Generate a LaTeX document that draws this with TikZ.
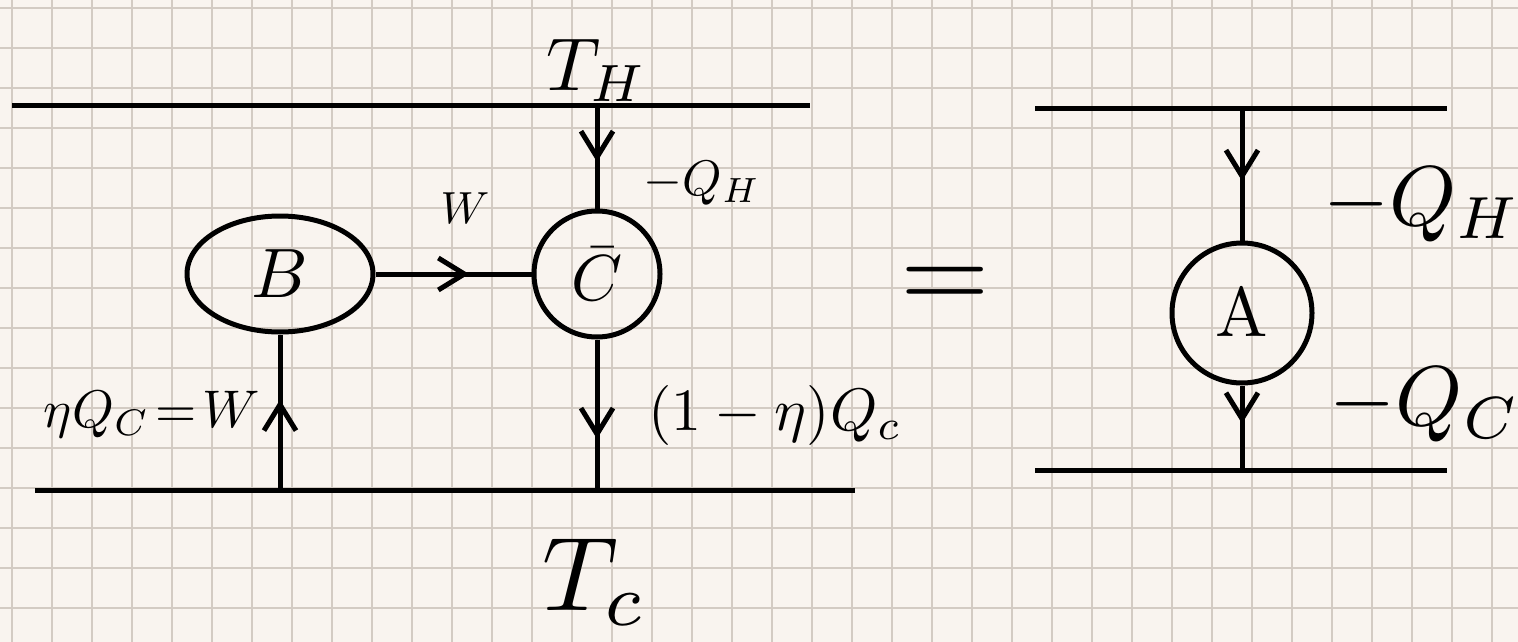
\documentclass[tikz,border=0pt]{standalone}
\usepackage{graphicx}
\usetikzlibrary{shapes.geometric,arrows.meta,decorations.markings}
\definecolor{paper}{HTML}{F9F4EF}
\definecolor{gridc}{HTML}{D3CBC3}
\tikzset{
  ink/.style={line width=5pt, black},
  midarrow/.style={ink, postaction={decorate}, decoration={markings,
     mark=at position #1 with {\arrow{Straight Barb[length=26pt,width=32pt,line width=5pt]}}}},
  engine/.style={circle, draw, ink, inner sep=0pt},
  lbl/.style={inner sep=0pt},
}
\begin{document}
\begin{tikzpicture}[x=1pt,y=-1pt]
\useasboundingbox (0,0) rectangle (1518,642);
\fill[paper] (0,0) rectangle (1518,642);
\foreach \i in {0,...,37} \draw[gridc, line width=1.6pt] (12+40*\i,0) -- (12+40*\i,642);
\foreach \j in {0,...,15} \draw[gridc, line width=1.6pt] (0,8+40*\j) -- (1518,8+40*\j);

% left reservoirs
\coordinate (hl) at (12,105);
\coordinate (hr) at (810,105);
\coordinate (cl) at (35,490);
\coordinate (cr) at (855,490);
\draw[ink] (hl) -- (hr);
\draw[ink] (cl) -- (cr);
\node[lbl] (TH) at (597,70) {\scalebox{7.5}{$T_H$}};
\node[lbl] (TC) at (595,582) {\scalebox{10.5}{$T_c$}};

% engines
\node[ellipse, draw, ink, minimum width=186pt, minimum height=116pt, inner sep=0pt] (B) at (280,274) {\scalebox{7}{$B$}};
\node[engine, minimum size=126pt] (C) at (597,274) {\scalebox{6.5}{$\bar{C}$}};

\coordinate (Ctop) at (597,105);
\coordinate (Cbot) at (597,490);
\coordinate (Bbot) at (280,490);
\draw[midarrow=0.55] (Ctop) -- (C.north);
\draw[midarrow=0.66] (C.south) -- (Cbot);
\draw[midarrow=0.58] (Bbot) -- (B.south);
\draw[midarrow=0.6] (B.east) -- (C.west);

\node[lbl] (W) at (465,208) {\scalebox{4.5}{$W$}};
\node[lbl] (QH1) at (702,183) {\scalebox{5}{$-Q_H$}};
\node[lbl] (eta) at (152,415) {\scalebox{5.3}{$\eta Q_C\!=\!W$}};
\node[lbl] (qc1) at (775,415) {\scalebox{6}{$(1-\eta)Q_c$}};

\node[lbl] (eq) at (945,288) {\scalebox{11.5}{$=$}};

% right
\coordinate (rhl) at (1035,108);
\coordinate (rhr) at (1447,108);
\coordinate (rcl) at (1035,470);
\coordinate (rcr) at (1447,470);
\draw[ink] (rhl) -- (rhr);
\draw[ink] (rcl) -- (rcr);
\node[engine, minimum size=140pt] (A) at (1242,313) {\scalebox{7}{$\mathrm{A}$}};
\coordinate (Atop) at (1242,108);
\coordinate (Abot) at (1242,470);
\draw[midarrow=0.55] (Atop) -- (A.north);
\draw[midarrow=0.45] (A.south) -- (Abot);
\node[lbl] (QH2) at (1422,205) {\scalebox{8.5}{$-Q_H$}};
\node[lbl] (QC2) at (1425,405) {\scalebox{8.5}{$-Q_C$}};
\end{tikzpicture}
\end{document}
